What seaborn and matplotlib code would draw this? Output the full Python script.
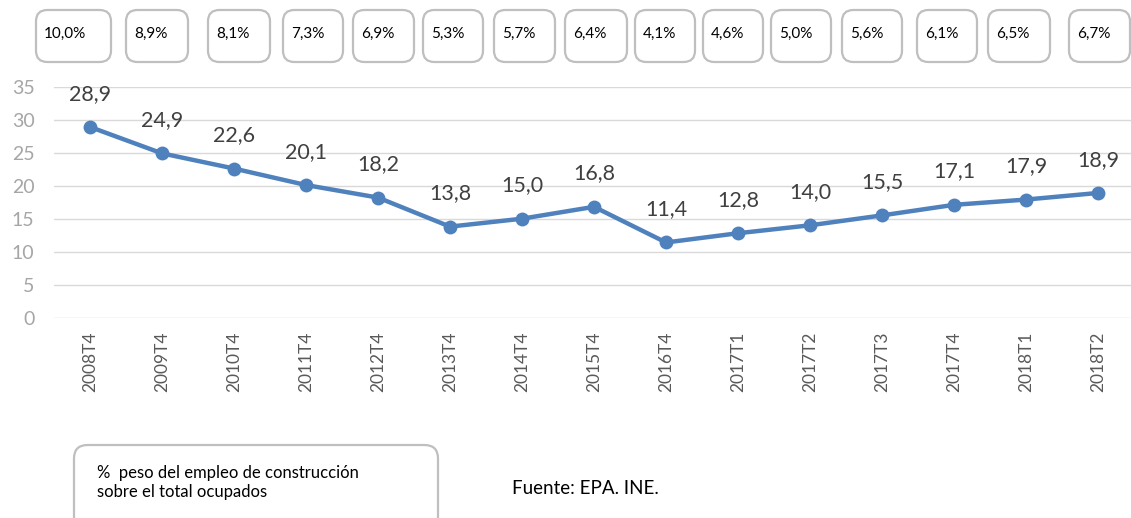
import matplotlib
matplotlib.use("Agg")
import matplotlib.pyplot as plt
import seaborn as sns
import pandas as pd
from matplotlib.patches import FancyBboxPatch

# ---- data ----
periods = ["2008T4", "2009T4", "2010T4", "2011T4", "2012T4", "2013T4", "2014T4",
           "2015T4", "2016T4", "2017T1", "2017T2", "2017T3", "2017T4", "2018T1", "2018T2"]
values = [28.9, 24.9, 22.6, 20.1, 18.2, 13.8, 15.0, 16.8, 11.4, 12.8, 14.0, 15.5, 17.1, 17.9, 18.9]
share_labels = ["10,0%", "8,9%", "8,1%", "7,3%", "6,9%", "5,3%", "5,7%", "6,4%",
                "4,1%", "4,6%", "5,0%", "5,6%", "6,1%", "6,5%", "6,7%"]
y_ticks = [0, 5, 10, 15, 20, 25, 30, 35]
note_text = "%  peso del empleo de construcción\nsobre el total ocupados"
source_text = "Fuente: EPA. INE."

# ---- layout (pixels) ----
W, H = 1131, 518
box_left = [36, 126, 208, 283, 353, 423, 494, 565, 635, 703, 771, 842, 917, 988, 1069]
box_right = [111, 188, 270, 343, 414, 483, 555, 627, 695, 763, 831, 902, 977, 1050, 1130]
box_top, box_bottom = 10, 62

sns.set_theme(style="white")
plt.rcParams["font.family"] = ["Lato", "DejaVu Sans"]

fig = plt.figure(figsize=(W / 100, H / 100), dpi=100)
ax_left, ax_right = 54, 1134
ax_top, ax_bot = 86.7, 317.7
ax = fig.add_axes([ax_left / W, 1 - ax_bot / H, (ax_right - ax_left) / W, (ax_bot - ax_top) / H])

df = pd.DataFrame({"period": periods, "value": values})
blue = "#4f81bd"
sns.lineplot(data=df, x="period", y="value", ax=ax, color=blue, linewidth=3.2,
             marker="o", markersize=10, markeredgecolor=blue, markeredgewidth=0,
             sort=False)

ax.set_xlim(-0.5, len(periods) - 0.5)
ax.set_ylim(0, 35)
ax.set_yticks(y_ticks)
ax.set_yticklabels([str(t) for t in y_ticks], fontsize=14, color="#a6a6a6")
ax.set_xticks(range(len(periods)))
ax.set_xticklabels(periods, rotation=90, fontsize=12.5, color="#595959")
ax.tick_params(axis="both", length=0)
ax.tick_params(axis="y", pad=14)
ax.tick_params(axis="x", pad=10)
ax.set_xlabel("")
ax.set_ylabel("")
for s in ax.spines.values():
    s.set_visible(False)
ax.yaxis.grid(True, color="#d9d9d9", linewidth=1.0)
ax.xaxis.grid(False)
ax.set_axisbelow(True)

for i, v in enumerate(values):
    ax.annotate(f"{v:.1f}".replace(".", ","), (i, v), xytext=(0, 24),
                textcoords="offset points", ha="center", va="center",
                fontsize=15.5, color="#404040")

# top boxes
for l, r, lab in zip(box_left, box_right, share_labels):
    x0, w = l / W, (r - l) / W
    y0, h = 1 - box_bottom / H, (box_bottom - box_top) / H
    p = FancyBboxPatch((x0, y0), w, h, boxstyle="round,pad=0,rounding_size=0.01",
                       transform=fig.transFigure, facecolor="white",
                       edgecolor="#bfbfbf", linewidth=1.6, mutation_aspect=W / H)
    fig.patches.append(p)
    fig.text((l + 8) / W, 1 - 34 / H, lab, fontsize=11, color="#000000",
             ha="left", va="center")

# bottom note box
nl, nr, nt, nb = 74, 438, 445, 540
p = FancyBboxPatch((nl / W, 1 - nb / H), (nr - nl) / W, (nb - nt) / H,
                   boxstyle="round,pad=0,rounding_size=0.012",
                   transform=fig.transFigure, facecolor="white",
                   edgecolor="#bfbfbf", linewidth=1.6, mutation_aspect=W / H)
fig.patches.append(p)
fig.text(97 / W, 1 - 482.5 / H, note_text, fontsize=12, color="#000000",
         ha="left", va="center", linespacing=1.25)
fig.text(512 / W, 1 - 488 / H, source_text, fontsize=13.5, color="#000000",
         ha="left", va="center")

fig.savefig("out.png", dpi=100)
